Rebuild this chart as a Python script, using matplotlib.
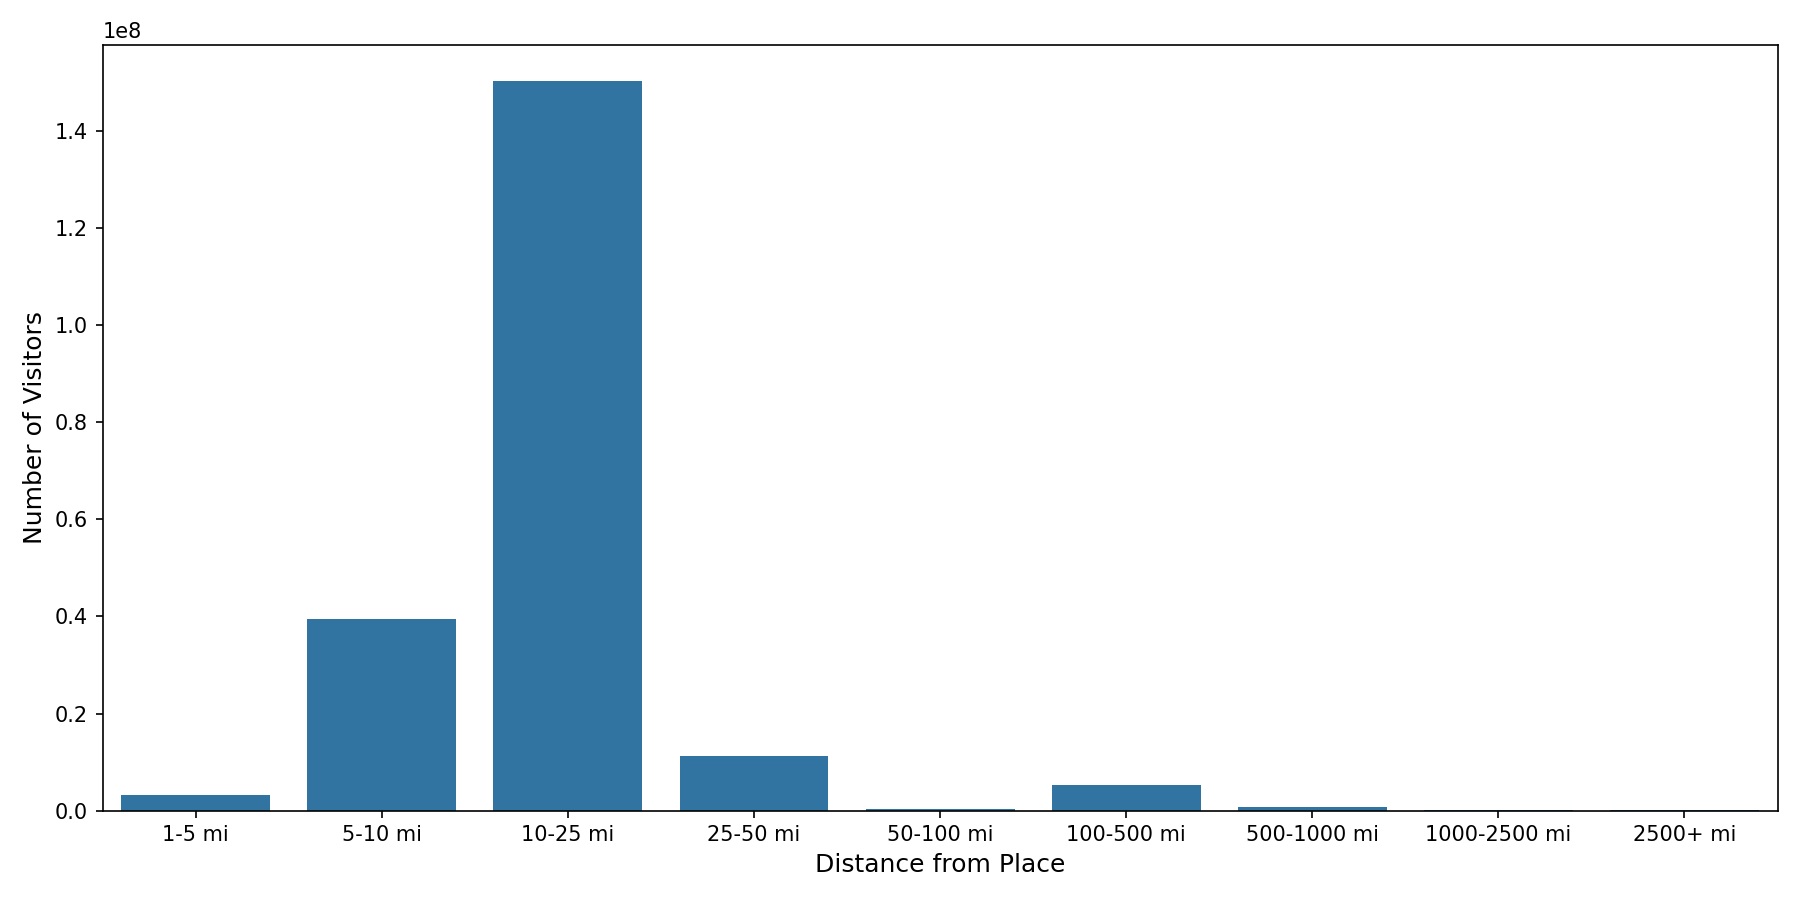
import matplotlib
matplotlib.use("Agg")
import matplotlib.pyplot as plt

distance_bins = ["1-5 mi", "5-10 mi", "10-25 mi", "25-50 mi", "50-100 mi",
                 "100-500 mi", "500-1000 mi", "1000-2500 mi", "2500+ mi"]
visitors = [3.2e6, 39.5e6, 150.3e6, 11.2e6, 0.4e6, 5.2e6, 0.7e6, 0.1e6, 0.02e6]

fig, ax = plt.subplots(figsize=(12, 6), dpi=150)
ax.bar(distance_bins, visitors, color="#3274a1", width=0.8)
ax.set_xlim(-0.5, len(distance_bins) - 0.5)
ax.set_xlabel("Distance from Place", fontsize=12)
ax.set_ylabel("Number of Visitors", fontsize=12)
plt.tight_layout()
plt.savefig("out.png")
